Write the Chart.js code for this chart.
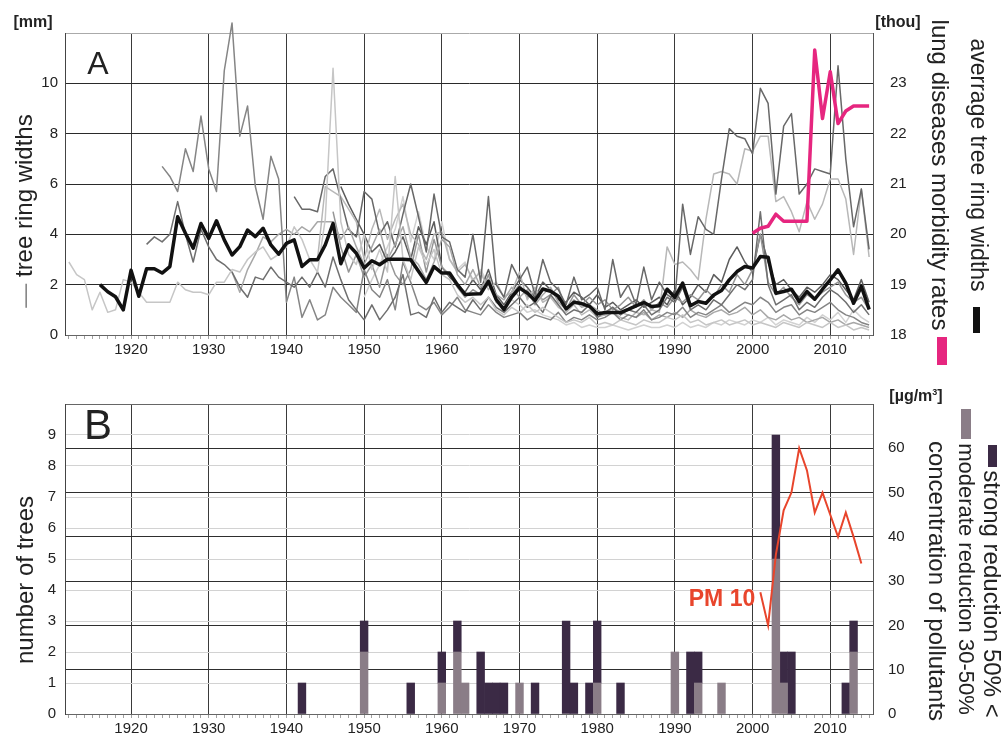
<!DOCTYPE html>
<html>
<head>
<meta charset="utf-8">
<script src="https://cdn.jsdelivr.net/npm/chart.js@4.4.1/dist/chart.umd.min.js"></script>
<style>
  body { margin: 0; background: #fff; font-family: "Liberation Sans", Arial, sans-serif; color: #222; }
  #wrap { position: relative; width: 1003px; height: 738px; overflow: hidden; }
  canvas { position: absolute; left: 0; }
  .lbl { position: absolute; white-space: nowrap; line-height: 1; transform: translate(-50%, -50%); }
  .up { transform: translate(-50%, -50%) rotate(-90deg); }
  .down { transform: translate(-50%, -50%) rotate(90deg); }
  .mark { position: absolute; }
</style>
</head>
<body>
<div id="wrap">
  <canvas id="topChart" width="1003" height="362" style="top:0"></canvas>
  <canvas id="botChart" width="1003" height="358" style="top:380px"></canvas>

  <!-- panel A labels -->
  <div class="lbl" style="left:33px;top:22px;font-size:16px;font-weight:bold">[mm]</div>
  <div class="lbl" style="left:98px;top:63px;font-size:32px">A</div>
  <div class="lbl up" style="left:24px;top:211px;font-size:24px"><span style="color:#888">—</span> tree ring widths</div>
  <div class="lbl" style="left:898px;top:22px;font-size:16px;font-weight:bold">[thou]</div>
  <div class="lbl down" style="left:940px;top:175px;font-size:24px">lung diseases morbidity rates</div>
  <div class="mark" style="left:937px;top:337px;width:10px;height:28px;background:#e6267f"></div>
  <div class="lbl down" style="left:978px;top:165px;font-size:23px">averrage tree ring widths</div>
  <div class="mark" style="left:973px;top:307px;width:7px;height:26px;background:#111"></div>

  <!-- panel B labels -->
  <div class="lbl" style="left:98px;top:425px;font-size:42px">B</div>
  <div class="lbl up" style="left:25px;top:580px;font-size:24px">number of trees</div>
  <div class="lbl" style="left:916px;top:396px;font-size:16px;font-weight:bold">[µg/m<sup style="font-size:9px">3</sup>]</div>
  <div class="lbl down" style="left:937px;top:581px;font-size:24px">concentration of pollutants</div>
  <div class="mark" style="left:961px;top:409px;width:10px;height:30px;background:#8a7d87"></div>
  <div class="lbl down" style="left:966px;top:579px;font-size:22px">moderate reduction 30-50%</div>
  <div class="mark" style="left:988px;top:445px;width:9px;height:22px;background:#3b2a45"></div>
  <div class="lbl down" style="left:992px;top:594px;font-size:24px">strong reduction 50% &lt;</div>
  <div class="lbl" style="left:722px;top:598px;font-size:23px;font-weight:bold;color:#e8452c">PM 10</div>
</div>

<script>
Chart.defaults.font.family = '"Liberation Sans", Arial, sans-serif';
Chart.defaults.color = '#222';

const FIRST_YEAR = 1912, LAST_YEAR = 2015;
const years = [];
for (let y = FIRST_YEAR; y <= LAST_YEAR; y++) years.push(y);

// ---- panel A: individual trees (start year + yearly ring widths, mm)
const tree1Start = 1912;
const tree1 = [2.9, 2.4, 2.2, 1.0, 1.7, 0.9, 1.0, 2.2, 2.1, 1.7,
  1.3, 1.3, 1.3, 1.3, 2.1, 1.8, 1.7, 1.7, 1.6, 2.1,
  2.1, 2.6, 2.5, 3.0, 3.3, 3.5, 3.0, 3.2, 3.5, 4.3,
  3.8, 3.0, 2.5, 4.6, 10.6, 4.5, 3.2, 2.8, 4.0, 2.6,
  3.4, 2.5, 6.3, 3.0, 2.2, 3.5, 2.8, 3.4, 2.4, 2.2,
  1.6, 1.3, 1.5, 1.2, 1.5, 1.0, 0.8, 1.1, 0.9, 1.2,
  0.9, 1.1, 0.9, 0.7, 0.5, 0.6, 0.5, 0.7, 0.4, 0.5,
  0.4, 0.6, 0.5, 0.4, 0.6, 0.5, 0.5, 0.7, 0.6, 0.8,
  0.5, 0.6, 0.4, 0.5, 0.6, 0.4, 0.5, 0.6, 0.4, 0.5,
  0.4, 0.3, 0.5, 0.4, 0.3, 0.5, 0.4, 0.3, 0.5, 0.3,
  0.4, 0.2, 0.3, 0.2];
const tree2Start = 1922;
const tree2 = [3.6, 3.9, 3.7, 4.0, 5.3, 4.0, 2.9, 4.2, 3.5, 3.0,
  2.8, 2.5, 1.9, 1.5, 2.3, 2.2, 2.7, 2.3, 2.1, 1.9,
  2.3, 1.9, 2.5, 1.9, 3.1, 2.2, 1.4, 1.0, 0.6, 1.2,
  0.6, 1.0, 1.5, 2.4, 0.8, 0.9, 0.7, 1.5, 0.9, 1.3,
  1.1, 0.9, 1.4, 1.0, 1.5, 1.1, 0.9, 1.2, 1.5, 1.1,
  1.3, 0.9, 1.6, 1.2, 0.8, 1.0, 0.9, 1.2, 0.7, 0.9,
  1.1, 0.8, 1.0, 0.9, 1.2, 0.8, 1.0, 1.5, 1.3, 1.9,
  1.0, 1.2, 1.0, 1.4, 1.2, 1.6, 2.0, 1.8, 2.2, 4.9,
  2.0, 1.2, 1.4, 1.6, 1.0, 1.3, 1.1, 1.5, 1.8, 1.6,
  1.3, 0.9, 1.2, 0.8];
const tree3Start = 1924;
const tree3 = [6.7, 6.3, 5.7, 7.4, 6.5, 8.7, 6.6, 5.7, 10.5, 12.4,
  7.9, 9.1, 5.9, 4.6, 7.1, 6.2, 1.3, 2.3, 0.7, 1.4,
  0.6, 0.8, 1.9, 1.5, 1.2, 0.9, 2.6, 1.8, 1.5, 2.2,
  1.0, 2.9, 2.1, 1.2, 1.0, 1.3, 0.8, 1.1, 1.5, 1.0,
  0.9, 0.8, 1.2, 0.9, 0.7, 0.8, 0.9, 0.6, 0.8, 0.7,
  0.6, 0.9, 0.5, 0.7, 0.6, 0.8, 0.6, 0.7, 0.9, 0.6,
  0.8, 0.7, 1.0, 0.6, 0.7, 0.9, 0.8, 1.1, 0.7, 0.9,
  0.8, 1.0, 1.2, 0.9, 1.1, 1.3, 1.2, 1.5, 1.3, 0.9,
  1.1, 1.2, 0.8, 1.0, 0.9, 1.1, 1.3, 1.0, 0.8, 0.7,
  0.5, 0.4];
const tree4Start = 1933;
const tree4 = [2.5, 1.7, 2.6, 3.2, 3.9, 3.7, 4.0, 4.2, 4.0, 4.3,
  4.1, 4.5, 4.5, 4.5, 3.8, 4.3, 3.5, 2.8, 3.5, 4.2,
  3.0, 3.6, 4.3, 3.1, 2.8, 2.2, 2.9, 3.8, 3.5, 2.4,
  2.0, 2.6, 1.9, 2.2, 1.6, 1.4, 1.9, 1.5, 1.8, 1.2,
  1.6, 1.9, 1.3, 1.0, 1.4, 1.1, 1.2, 1.0, 0.8, 1.1,
  0.9, 0.8, 0.7, 0.9, 0.6, 0.8, 0.7, 0.9, 0.7, 1.0,
  0.8, 0.7, 0.9, 1.0, 0.8, 0.9, 1.1, 0.8, 1.0, 0.7,
  0.6, 0.8, 0.6, 0.7, 0.5, 0.6, 0.7, 0.5, 0.6, 0.4,
  0.5, 0.4, 0.3];
const tree5Start = 1941;
const tree5 = [5.5, 5.0, 5.0, 4.9, 6.3, 6.6, 5.4, 4.2, 3.9, 5.7,
  5.4, 4.0, 4.5, 3.5, 4.8, 6.0, 4.7, 3.3, 5.6, 3.9,
  3.7, 2.6, 2.3, 4.0, 2.1, 5.5, 2.0, 1.5, 2.8, 2.2,
  2.7, 1.6, 3.0, 2.1, 1.8, 1.2, 2.3, 1.4, 1.6, 1.9,
  1.0, 3.0, 1.5, 2.0, 1.2, 2.7, 1.4, 2.1, 1.6, 1.4,
  5.2, 3.2, 4.7, 4.2, 4.0, 6.2, 8.2, 7.9, 7.8, 7.2,
  9.8, 9.2, 5.6, 8.3, 8.8, 5.6, 6.0, 6.6, 6.5, 6.4,
  10.7, 7.0, 4.3, 5.8, 3.4];
const tree6Start = 1944;
const tree6 = [3.0, 5.9, 5.7, 5.5, 5.0, 4.5, 3.0, 4.2, 5.0, 3.8,
  4.6, 5.2, 4.0, 3.6, 3.0, 4.0, 4.1, 3.0, 2.5, 2.8,
  2.2, 2.5, 1.8, 2.1, 1.5, 1.7, 2.5, 1.4, 1.9, 1.3,
  1.5, 1.1, 0.9, 1.2, 0.8, 1.0, 0.7, 0.8, 0.9, 0.7,
  0.6, 0.9, 0.8, 1.0, 0.9, 3.5, 2.8, 2.9, 2.6, 2.2,
  4.6, 6.4, 6.5, 6.4, 6.0, 7.4, 7.3, 7.9, 7.9, 5.3,
  5.5, 4.9, 4.1, 5.3, 4.6, 5.2, 6.2, 6.2, 5.4, 3.2,
  5.8, 3.1];
const tree7Start = 1946;
const tree7 = [4.9, 3.5, 2.5, 3.2, 2.3, 2.8, 1.9, 3.2, 2.4, 2.0,
  2.6, 4.0, 2.5, 3.8, 2.7, 2.4, 1.9, 1.5, 1.8, 1.6,
  2.4, 1.3, 1.1, 1.6, 2.0, 1.5, 1.7, 1.4, 1.6, 1.9,
  1.0, 1.6, 1.2, 1.5, 1.2, 1.4, 1.0, 1.2, 1.5, 1.1,
  1.4, 1.0, 1.3, 1.1, 1.5, 1.3, 1.6, 1.4, 1.8, 1.5,
  2.0, 1.7, 2.4, 2.0, 2.6, 4.0, 2.1, 1.6, 1.9, 1.5,
  1.2, 1.6, 1.4, 1.7, 1.9, 2.1, 1.6, 1.3, 1.5, 1.0];
const tree8Start = 1947;
const tree8 = [5.9, 5.2, 4.6, 4.0, 3.3, 3.6, 2.9, 3.3, 3.9, 3.0,
  4.3, 3.6, 4.5, 2.7, 2.3, 2.0, 1.7, 2.2, 1.8, 2.6,
  1.6, 1.2, 1.7, 2.2, 1.9, 1.5, 2.1, 1.8, 1.4, 1.3,
  1.7, 1.5, 1.2, 1.6, 1.1, 1.3, 1.0, 1.2, 1.4, 1.1,
  1.3, 1.5, 1.2, 1.8, 1.2, 1.5, 2.0, 1.7, 2.4, 2.1,
  3.0, 3.5, 2.9, 2.5, 4.0, 2.9, 2.0, 2.2, 1.8, 1.5,
  1.9, 1.7, 2.0, 2.4, 2.2, 1.8, 1.4, 2.2, 1.3];
const tree9Start = 1950;
const tree9 = [1.5, 2.2, 2.8, 3.5, 4.2, 5.5, 3.7, 4.9, 3.5, 3.0,
  4.5, 3.0, 2.6, 2.9, 2.1, 2.6, 2.0, 1.5, 1.1, 1.4,
  1.2, 0.9, 1.0, 0.8, 0.7, 0.6, 0.4, 0.5, 0.3, 0.4,
  0.3, 0.3, 0.4, 0.3, 0.2, 0.3, 0.4, 0.3, 0.3, 0.4,
  0.3, 0.5, 0.3, 0.4, 0.3, 0.5, 0.4, 0.6, 0.5, 0.4,
  0.6, 0.5, 0.7, 0.4, 0.6, 0.5, 0.4, 0.7, 0.5, 0.8,
  0.6, 0.9, 0.5, 1.0, 0.7, 0.5];

// average tree ring width (mm)
const meanStart = 1916;
const meanWidth = [2.0, 1.72, 1.52, 1.0, 2.57, 1.54, 2.63, 2.63, 2.46, 2.72,
  4.7, 4.04, 3.45, 4.43, 3.84, 4.54, 3.78, 3.18, 3.51, 4.17,
  3.91, 4.24, 3.58, 3.21, 3.64, 3.78, 2.72, 2.99, 2.99, 3.58,
  4.43, 2.83, 3.58, 3.25, 2.66, 2.95, 2.79, 3.01, 3.01, 3.01,
  2.99, 2.53, 2.09, 2.72, 2.46, 2.46, 2.0, 1.61, 1.63, 1.64,
  2.13, 1.41, 1.01, 1.51, 1.87, 1.67, 1.37, 1.83, 1.74, 1.54,
  1.04, 1.30, 1.25, 1.14, 0.84, 0.89, 0.89, 0.89, 1.02, 1.16,
  1.29, 1.13, 1.16, 1.82, 1.5, 2.06, 1.16, 1.33, 1.26, 1.59,
  1.77, 2.19, 2.52, 2.72, 2.66, 3.12, 3.09, 1.66, 1.73, 1.82,
  1.33, 1.73, 1.42, 1.82, 2.19, 2.59, 2.06, 1.26, 1.93, 1.02];

// lung diseases morbidity (thousands)
const morbStart = 2000;
const morbidity = [20.02, 20.12, 20.16, 20.4, 20.26, 20.26, 20.26, 20.26,
  23.66, 22.3, 23.23, 22.2, 22.45, 22.55, 22.55, 22.55];

// ---- panel B: number of trees with growth reduction, PM10
const moderateYears = [1950, 1960, 1962, 1963, 1970, 1980, 1990, 1993, 1996, 2003, 2004, 2013];
const moderateTrees = [2, 1, 2, 1, 1, 1, 2, 1, 1, 5, 1, 2];
const strongYears = [1942, 1950, 1956, 1960, 1962, 1965, 1966, 1967, 1968, 1972, 1976,
  1977, 1979, 1980, 1983, 1992, 1993, 2003, 2004, 2005, 2012, 2013];
const strongTrees = [1, 1, 1, 1, 1, 2, 1, 1, 1, 1, 3, 1, 1, 2, 1, 2, 1, 4, 1, 2, 1, 1];
const pmYears = [2001, 2002, 2003, 2004, 2005, 2006, 2007, 2008, 2009, 2010, 2011, 2012, 2013, 2014];
const pm10 = [27.5, 20, 36, 46, 50, 60, 55, 45.5, 50, 45, 40, 45.5, 40, 34];

function fromStart(start, values) {
  return years.map(y => {
    const i = y - start;
    return i >= 0 && i < values.length ? values[i] : null;
  });
}
function fromPairs(ys, values) {
  return years.map(y => {
    const i = ys.indexOf(y);
    return i < 0 ? null : values[i];
  });
}

function yearAxis(height) {
  return {
    type: 'category',
    offset: true,
    stacked: true,
    grid: {
      offset: false,
      color: c => years[c.index] % 10 === 0 ? '#3a3a3a' : 'rgba(0,0,0,0)',
      tickColor: '#a0a0a0',
      tickLength: 4,
      lineWidth: 1
    },
    border: { color: '#666' },
    ticks: {
      autoSkip: false, maxRotation: 0, padding: 2,
      font: { size: 15 }, color: '#222',
      callback: (v, i) => years[i] % 10 === 0 ? String(years[i]) : ''
    },
    afterFit: s => { s.height = height; }
  };
}

const treeStyles = [
  [tree1Start, tree1, '#c6c6c6'],
  [tree2Start, tree2, '#6f6f6f'],
  [tree3Start, tree3, '#858585'],
  [tree4Start, tree4, '#a8a8a8'],
  [tree5Start, tree5, '#686868'],
  [tree6Start, tree6, '#b8b8b8'],
  [tree7Start, tree7, '#959595'],
  [tree8Start, tree8, '#5c5c5c'],
  [tree9Start, tree9, '#d2d2d2']
];

const topDatasets = [
  { data: fromStart(morbStart, morbidity), yAxisID: 'y2', borderColor: '#e6267f', borderWidth: 3.5 },
  { data: fromStart(meanStart, meanWidth), yAxisID: 'y', borderColor: '#111', borderWidth: 3.5 }
].concat(treeStyles.map(t => ({
  data: fromStart(t[0], t[1]), yAxisID: 'y', borderColor: t[2], borderWidth: 1.5
})));

new Chart(document.getElementById('topChart'), {
  type: 'line',
  data: { labels: years, datasets: topDatasets },
  options: {
    responsive: false,
    animation: false,
    clip: false,
    layout: { padding: { top: 33, left: 0, right: 0, bottom: 0 } },
    elements: { point: { radius: 0 }, line: { tension: 0, borderJoinStyle: 'round' } },
    plugins: { legend: { display: false }, tooltip: { enabled: false } },
    scales: {
      x: yearAxis(27),
      y: {
        position: 'left', min: 0, max: 12,
        ticks: { stepSize: 2, padding: 7, font: { size: 15 }, color: '#222',
          callback: v => v === 12 ? '' : v },
        grid: { color: c => c.tick.value === 12 ? '#aaa' : '#2a2a2a', drawTicks: false },
        border: { color: '#444' },
        afterFit: s => { s.width = 65; }
      },
      y2: {
        position: 'right', min: 18, max: 24,
        ticks: { stepSize: 1, padding: 17, font: { size: 15 }, color: '#222',
          callback: v => v === 24 ? '' : v },
        grid: { drawOnChartArea: false, drawTicks: false },
        border: { color: '#555' },
        afterFit: s => { s.width = 130; }
      }
    }
  }
});

new Chart(document.getElementById('botChart'), {
  type: 'bar',
  data: {
    labels: years,
    datasets: [
      { type: 'line', data: fromPairs(pmYears, pm10), yAxisID: 'y2', order: 0,
        borderColor: '#e8452c', borderWidth: 2, pointRadius: 0, tension: 0 },
      { data: fromPairs(moderateYears, moderateTrees), yAxisID: 'y', order: 1,
        backgroundColor: '#8a7d87', barPercentage: 1, categoryPercentage: 1 },
      { data: fromPairs(strongYears, strongTrees), yAxisID: 'y', order: 2,
        backgroundColor: '#3b2a45', barPercentage: 1, categoryPercentage: 1 }
    ]
  },
  options: {
    responsive: false,
    animation: false,
    layout: { padding: { top: 20, left: 0, right: 0, bottom: 0 } },
    plugins: { legend: { display: false }, tooltip: { enabled: false } },
    scales: {
      x: yearAxis(21),
      y: {
        position: 'left', min: 0, max: 10, stacked: true,
        ticks: { stepSize: 1, padding: 9, font: { size: 15 }, color: '#222',
          callback: v => v === 10 ? '' : v },
        grid: { color: '#d2d2d2', drawTicks: false },
        border: { color: '#444' },
        afterFit: s => { s.width = 65; }
      },
      y2: {
        position: 'right', min: 0, max: 70,
        ticks: { stepSize: 10, padding: 15, font: { size: 15 }, color: '#222',
          callback: v => v === 70 ? '' : v },
        grid: { color: c => c.tick.value === 70 ? '#666' : '#2e2e2e', drawTicks: false },
        border: { color: '#555' },
        afterFit: s => { s.width = 130; }
      }
    }
  }
});
</script>
</body>
</html>
